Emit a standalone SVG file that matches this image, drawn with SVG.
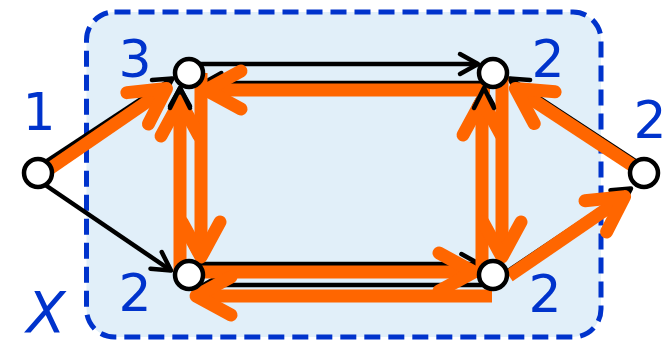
<svg xmlns="http://www.w3.org/2000/svg" width="669" height="347" viewBox="0 0 669 347">
<defs>
<style>
.box{fill:#e1eff9;stroke:#0033cc;stroke-width:5;stroke-dasharray:16 8}
.blk{stroke:#000;stroke-width:4.5;fill:none;marker-end:url(#ab)}
.org{stroke:#ff6600;stroke-width:13;fill:none;marker-end:url(#ao)}
.node{fill:#fff;stroke:#000;stroke-width:4.5}
.lbl{font-family:"DejaVu Sans","Liberation Sans",sans-serif;font-size:52px;fill:#0033cc;text-anchor:middle}
</style>
<marker id="ab" markerUnits="userSpaceOnUse" orient="auto" refX="0" refY="0" markerWidth="1" markerHeight="1" style="overflow:visible">
<path d="M-18,-10 L0,0 L-18,10" fill="none" stroke="#000" stroke-width="4.5" stroke-linecap="round" stroke-linejoin="round"/>
</marker>
<marker id="ao" markerUnits="userSpaceOnUse" orient="auto" refX="0" refY="0" markerWidth="1" markerHeight="1" style="overflow:visible">
<path d="M-35,-19 L0,0 L-35,19" fill="none" stroke="#ff6600" stroke-width="13" stroke-linecap="round" stroke-linejoin="round"/>
</marker>
</defs>
<rect class="box" x="86.5" y="12" width="514.5" height="325" rx="28"/>
<g id="connectors">
<g id="black-edges">
<line class="blk" x1="38" y1="167" x2="172.5" y2="78.5"/>
<line class="blk" x1="35" y1="178" x2="171" y2="270.5"/>
<line class="blk" x1="189" y1="64" x2="478" y2="64"/>
<line class="blk" x1="493" y1="83" x2="203.4" y2="83"/>
<line class="blk" x1="199" y1="73" x2="199" y2="260.6"/>
<line class="blk" x1="180" y1="275" x2="180" y2="88"/>
<line class="blk" x1="189" y1="264" x2="479.4" y2="264"/>
<line class="blk" x1="493" y1="285" x2="203.4" y2="285"/>
<line class="blk" x1="502" y1="73" x2="502" y2="260"/>
<line class="blk" x1="484" y1="275" x2="484" y2="88"/>
<line class="blk" x1="493" y1="281" x2="631" y2="188.5"/>
<line class="blk" x1="646" y1="168" x2="509.5" y2="78.5"/>
</g>
<g id="orange-edges">
<line class="org" x1="50" y1="168.5" x2="166.5" y2="88.5"/>
<line class="org" x1="490" y1="90" x2="206" y2="90"/>
<line class="org" x1="201" y1="73" x2="201" y2="257"/>
<line class="org" x1="180" y1="272" x2="180" y2="101"/>
<line class="org" x1="189" y1="272" x2="474" y2="272"/>
<line class="org" x1="492" y1="296" x2="196" y2="296"/>
<line class="org" x1="482" y1="275" x2="482" y2="100"/>
<line class="org" x1="502" y1="73" x2="502" y2="257"/>
<line class="org" x1="509" y1="276" x2="624.6" y2="196.6"/>
<line class="org" x1="644" y1="173" x2="515.4" y2="88.5"/>
</g>
<g id="black-heads-top">
<path d="M170,108 L180,88 L190,108" fill="none" stroke="#000" stroke-width="4.5" stroke-linecap="round" stroke-linejoin="round"/>
<path d="M474,108 L484,88 L494,108" fill="none" stroke="#000" stroke-width="4.5" stroke-linecap="round" stroke-linejoin="round"/>
</g>
</g>
<g id="node-A"><circle class="node" cx="38" cy="173" r="14"/><text class="lbl" x="39" y="130">1</text></g>
<g id="node-B"><circle class="node" cx="189" cy="73" r="14"/><text class="lbl" x="135" y="77">3</text></g>
<g id="node-C"><circle class="node" cx="493" cy="73" r="14"/><text class="lbl" x="548" y="77">2</text></g>
<g id="node-D"><circle class="node" cx="189" cy="275" r="14"/><text class="lbl" x="135" y="311">2</text></g>
<g id="node-E"><circle class="node" cx="493" cy="275" r="14"/><text class="lbl" x="545" y="312">2</text></g>
<g id="node-F"><circle class="node" cx="644" cy="173" r="14"/><text class="lbl" x="650" y="138">2</text></g>
<text class="lbl" x="46" y="333" font-style="italic" style="font-size:57px">X</text>
</svg>
